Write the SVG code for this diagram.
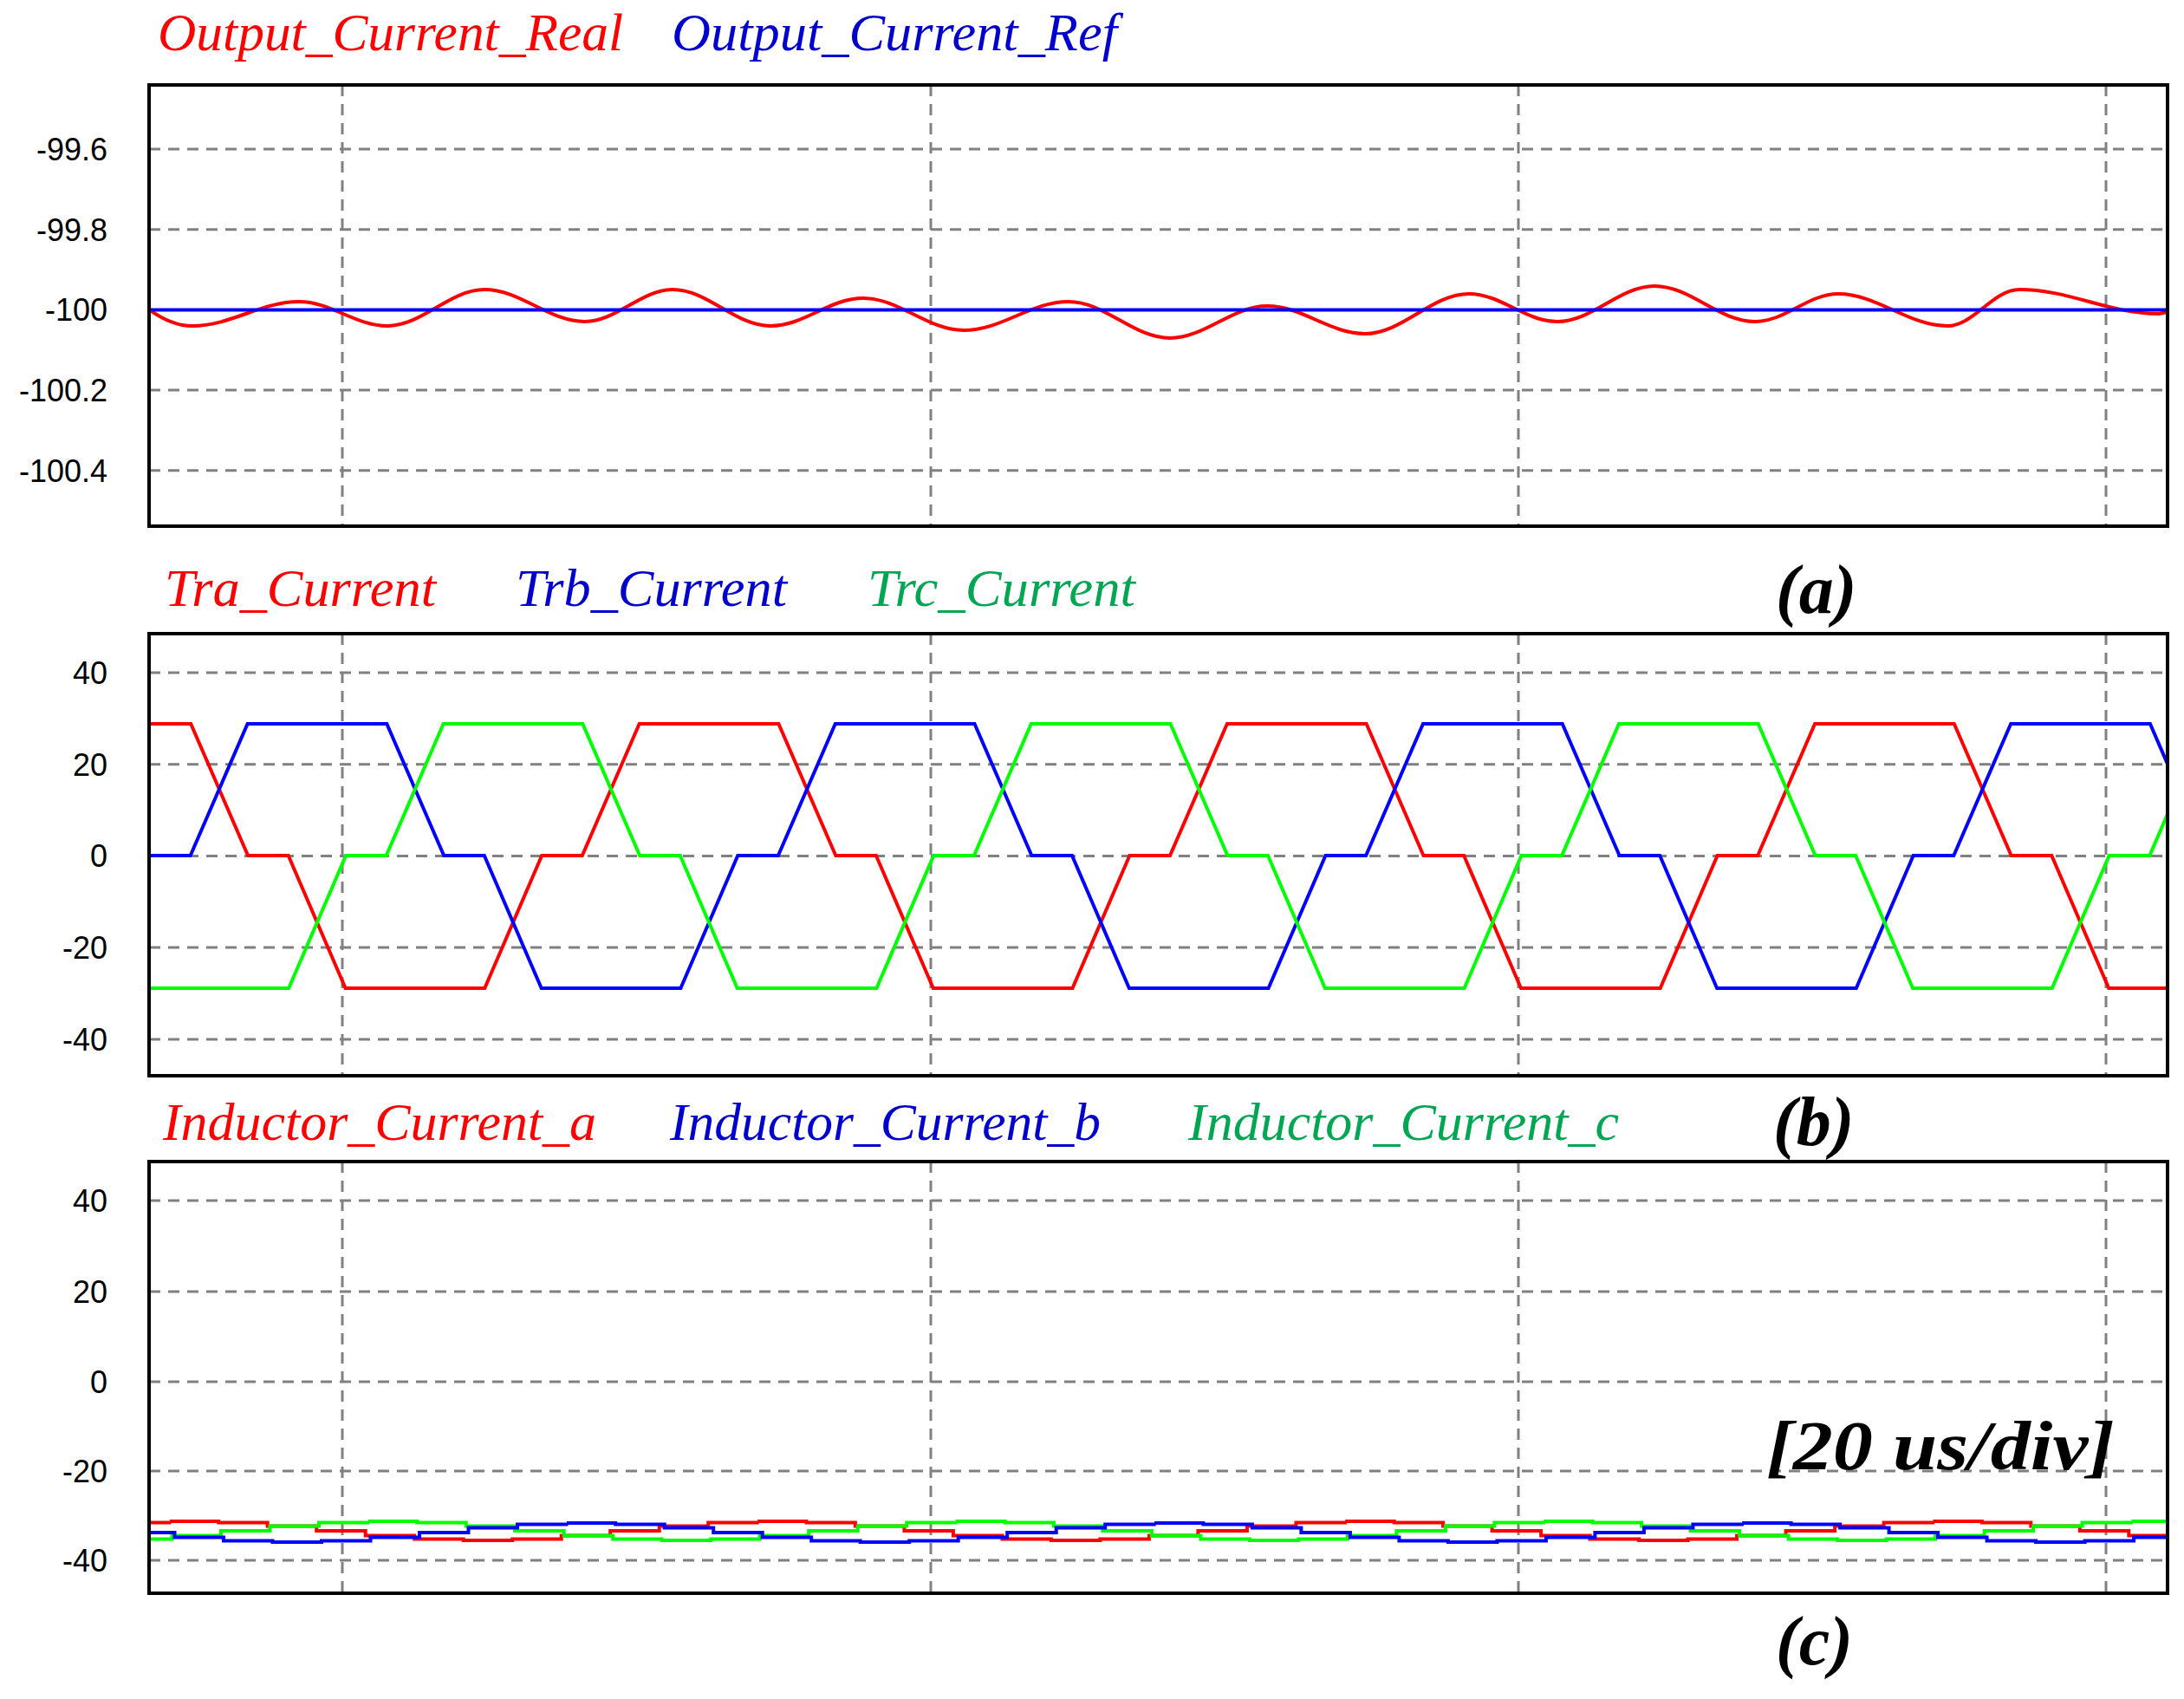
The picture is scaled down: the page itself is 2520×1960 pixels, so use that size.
<svg xmlns="http://www.w3.org/2000/svg" xmlns:xlink="http://www.w3.org/1999/xlink" width="2520" height="1960" viewBox="0 0 2520 1960">
<style>
.frame{fill:none;stroke:#000;stroke-width:4}
.grid{stroke:#808080;stroke-width:3;stroke-dasharray:13 9;fill:none}
.tick{font-family:"Liberation Sans",Arial,sans-serif;font-size:36px;text-anchor:end;fill:#000}
.lbl{font-family:"Liberation Serif","Times New Roman",serif;font-style:italic;font-size:62px}
.tag{font-family:"Liberation Serif","Times New Roman",serif;font-style:italic;font-weight:bold;font-size:80px;fill:#000}
.w{fill:none;stroke-width:4}
</style>
<defs>
<clipPath id="ca"><rect x="172" y="98" width="2329" height="509"/></clipPath>
<clipPath id="cb"><rect x="172" y="731" width="2329" height="510"/></clipPath>
<clipPath id="cc"><rect x="172" y="1340" width="2329" height="498"/></clipPath>
<path id="stair" d="M0,-11 h56.5 v1.5 h56.5 v4 h56.5 v5.5 h56.5 v5.5 h56.5 v4 h56.5 v1.5 h56.5 v-1.5 h56.5 v-4 h56.5 v-5.5 h56.5 v-5.5 h56.5 v-4 h56.5 v-1.5"/>
</defs>

<g id="panel-a">
<text class="lbl" x="182" y="58" fill="#ff0000" textLength="537" lengthAdjust="spacingAndGlyphs">Output_Current_Real</text>
<text class="lbl" x="775" y="58" fill="#0000cc" textLength="514" lengthAdjust="spacingAndGlyphs">Output_Current_Ref</text>
<g class="grid">
<path d="M172,172H2501M172,264.7H2501M172,357.4H2501M172,450H2501M172,542.8H2501"/>
<path d="M395,98V607M1074,98V607M1752,98V607M2430,98V607"/>
</g>
<text class="tick" x="124" y="185">-99.6</text>
<text class="tick" x="124" y="278">-99.8</text>
<text class="tick" x="124" y="370">-100</text>
<text class="tick" x="124" y="463">-100.2</text>
<text class="tick" x="124" y="556">-100.4</text>
<g clip-path="url(#ca)">
<path class="w" stroke="#ff0000" d="M172,357 C190,370 205,376 222,376 C266,376 301,348 345,348 C382,348 410,376 447,376 C487,376 519,334 559,334 C601,334 633,371 675,371 C711,371 740,334 776,334 C817,334 848,376 889,376 C928,376 957,344 996,344 C1038,344 1070,381 1112,381 C1156,381 1189,348 1233,348 C1275,348 1308,390 1350,390 C1390,390 1422,353 1462,353 C1503,353 1534,385 1575,385 C1618,385 1652,339 1695,339 C1732,339 1760,371 1797,371 C1837,371 1869,330 1909,330 C1951,330 1983,371 2025,371 C2060,371 2086,339 2121,339 C2166,339 2202,376 2247,376 C2277,376 2300,334 2330,334 C2388,334 2433,362 2491,362 L2501,360"/>
<path class="w" stroke="#0000ff" d="M172,357.4H2501"/>
</g>
<rect class="frame" x="172" y="98" width="2329" height="509"/>
<text class="tag" x="2049" y="707">(a)</text>
</g>

<g id="panel-b">
<text class="lbl" x="190" y="699" fill="#ff0000" textLength="313" lengthAdjust="spacingAndGlyphs">Tra_Current</text>
<text class="lbl" x="595" y="699" fill="#0000cc" textLength="313" lengthAdjust="spacingAndGlyphs">Trb_Current</text>
<text class="lbl" x="1001" y="699" fill="#00a651" textLength="309" lengthAdjust="spacingAndGlyphs">Trc_Current</text>
<g class="grid">
<path d="M172,776H2501M172,881.7H2501M172,987.4H2501M172,1093H2501M172,1199H2501"/>
<path d="M395,731V1241M1074,731V1241M1752,731V1241M2430,731V1241"/>
</g>
<text class="tick" x="124" y="789">40</text>
<text class="tick" x="124" y="895">20</text>
<text class="tick" x="124" y="1000">0</text>
<text class="tick" x="124" y="1106">-20</text>
<text class="tick" x="124" y="1212">-40</text>
<g clip-path="url(#cb)">
<polyline class="w" stroke="#ff0000" points="59.5,835 220.2,835 286.1,987 332.7,987 398.6,1140 559.3,1140 625.2,987 671.8,987 737.7,835 898.4,835 964.3,987 1010.9,987 1076.8,1140 1237.5,1140 1303.4,987 1350,987 1415.9,835 1576.6,835 1642.5,987 1689.1,987 1755,1140 1915.7,1140 1981.6,987 2028.2,987 2094.1,835 2254.8,835 2320.7,987 2367.3,987 2433.2,1140 2593.9,1140"/>
<polyline class="w" stroke="#0000ff" points="107.2,1140 173.1,987 219.7,987 285.6,835 446.3,835 512.2,987 558.8,987 624.7,1140 785.4,1140 851.3,987 897.9,987 963.8,835 1124.5,835 1190.4,987 1237,987 1302.9,1140 1463.6,1140 1529.5,987 1576.1,987 1642,835 1802.7,835 1868.6,987 1915.2,987 1981.1,1140 2141.8,1140 2207.7,987 2254.3,987 2320.2,835 2480.9,835 2546.8,987"/>
<polyline class="w" stroke="#00ff00" points="106.6,1140 172.5,1140 333.2,1140 399.1,987 445.7,987 511.6,835 672.3,835 738.2,987 784.8,987 850.7,1140 1011.4,1140 1077.3,987 1123.9,987 1189.8,835 1350.5,835 1416.4,987 1463,987 1528.9,1140 1689.6,1140 1755.5,987 1802.1,987 1868,835 2028.7,835 2094.6,987 2141.2,987 2207.1,1140 2367.8,1140 2433.7,987 2480.3,987 2546.2,835"/>
</g>
<rect class="frame" x="172" y="731" width="2329" height="510"/>
<text class="tag" x="2046" y="1321">(b)</text>
</g>

<g id="panel-c">
<text class="lbl" x="188" y="1315" fill="#ff0000" textLength="500" lengthAdjust="spacingAndGlyphs">Inductor_Current_a</text>
<text class="lbl" x="773" y="1315" fill="#0000cc" textLength="497" lengthAdjust="spacingAndGlyphs">Inductor_Current_b</text>
<text class="lbl" x="1371" y="1315" fill="#00a651" textLength="497" lengthAdjust="spacingAndGlyphs">Inductor_Current_c</text>
<g class="grid">
<path d="M172,1385H2501M172,1490H2501M172,1594H2501M172,1697H2501M172,1800H2501"/>
<path d="M395,1340V1838M1074,1340V1838M1752,1340V1838M2430,1340V1838"/>
</g>
<text class="tick" x="124" y="1398">40</text>
<text class="tick" x="124" y="1503">20</text>
<text class="tick" x="124" y="1607">0</text>
<text class="tick" x="124" y="1710">-20</text>
<text class="tick" x="124" y="1813">-40</text>
<g clip-path="url(#cc)" class="w">
<g stroke="#ff0000">
<use xlink:href="#stair" href="#stair" transform="translate(-482.5,1766)"/>
<use xlink:href="#stair" href="#stair" transform="translate(195.7,1766)"/>
<use xlink:href="#stair" href="#stair" transform="translate(873.9,1766)"/>
<use xlink:href="#stair" href="#stair" transform="translate(1552.1,1766)"/>
<use xlink:href="#stair" href="#stair" transform="translate(2230.3,1766)"/>
</g>
<g stroke="#00ff00">
<use xlink:href="#stair" href="#stair" transform="translate(-253.5,1766)"/>
<use xlink:href="#stair" href="#stair" transform="translate(424.7,1766)"/>
<use xlink:href="#stair" href="#stair" transform="translate(1102.9,1766)"/>
<use xlink:href="#stair" href="#stair" transform="translate(1781.1,1766)"/>
<use xlink:href="#stair" href="#stair" transform="translate(2459.3,1766)"/>
</g>
<g stroke="#0000ff">
<use xlink:href="#stair" href="#stair" transform="translate(-24.5,1768)"/>
<use xlink:href="#stair" href="#stair" transform="translate(653.7,1768)"/>
<use xlink:href="#stair" href="#stair" transform="translate(1331.9,1768)"/>
<use xlink:href="#stair" href="#stair" transform="translate(2010.1,1768)"/>
</g>
</g>
<rect class="frame" x="172" y="1340" width="2329" height="498"/>
<text class="tag" x="2038" y="1695" font-size="90" textLength="402" lengthAdjust="spacingAndGlyphs">[20 us/div]</text>
<text class="tag" x="2049" y="1920">(c)</text>
</g>
</svg>
